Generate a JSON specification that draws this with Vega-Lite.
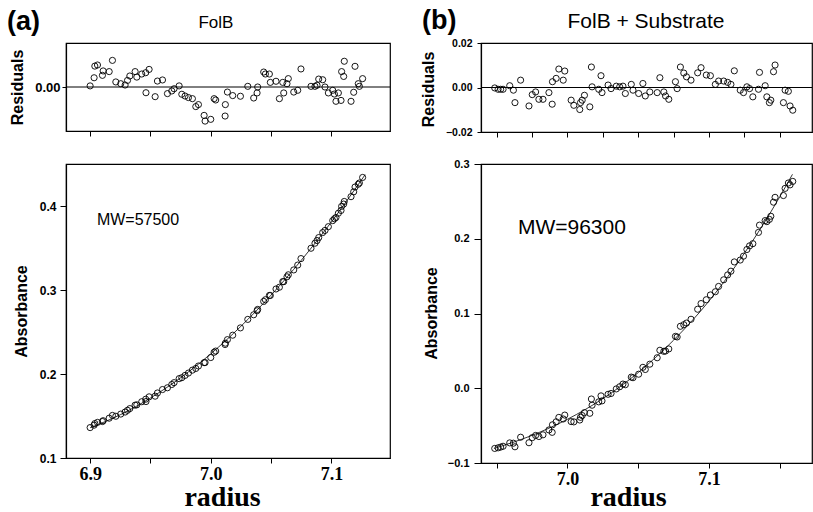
{
  "$schema": "https://vega.github.io/schema/vega-lite/v6.json",
  "autosize": {"type": "none"},
  "padding": {"left": 66, "top": 43, "right": 747, "bottom": 469},
  "background": "white",
  "bounds": "flush",
  "columns": 2,
  "spacing": {"row": 32, "column": 91},
  "config": {
    "view": {"stroke": "black", "strokeWidth": 1.2},
    "axis": {"domainColor": "black", "domainWidth": 1.2, "tickColor": "black", "tickWidth": 1, "labelColor": "black", "titleColor": "black", "grid": false, "labelFont": "Liberation Sans", "titleFont": "Liberation Sans", "labelFontWeight": "bold", "titleFontWeight": "bold", "labelOverlap": false, "labelFlush": false}
  },
  "datasets": {
    "a": [
      {"r": 6.9000, "res": 0.0005, "abs": 0.1362},
      {"r": 6.9033, "res": 0.0042, "abs": 0.1391},
      {"r": 6.9039, "res": 0.0095, "abs": 0.1410},
      {"r": 6.9061, "res": 0.0100, "abs": 0.1424},
      {"r": 6.9102, "res": 0.0053, "abs": 0.1434},
      {"r": 6.9108, "res": 0.0073, "abs": 0.1444},
      {"r": 6.9158, "res": 0.0070, "abs": 0.1474},
      {"r": 6.9185, "res": 0.0121, "abs": 0.1507},
      {"r": 6.9213, "res": 0.0023, "abs": 0.1497},
      {"r": 6.9254, "res": 0.0015, "abs": 0.1523},
      {"r": 6.9290, "res": 0.0009, "abs": 0.1547},
      {"r": 6.9310, "res": 0.0030, "abs": 0.1568},
      {"r": 6.9329, "res": 0.0050, "abs": 0.1588},
      {"r": 6.9373, "res": 0.0070, "abs": 0.1629},
      {"r": 6.9387, "res": 0.0045, "abs": 0.1633},
      {"r": 6.9428, "res": 0.0059, "abs": 0.1670},
      {"r": 6.9461, "res": 0.0065, "abs": 0.1700},
      {"r": 6.9489, "res": 0.0080, "abs": 0.1728},
      {"r": 6.9463, "res": -0.0026, "abs": 0.1672},
      {"r": 6.9539, "res": -0.0044, "abs": 0.1736},
      {"r": 6.9558, "res": 0.0027, "abs": 0.1774},
      {"r": 6.9600, "res": 0.0032, "abs": 0.1815},
      {"r": 6.9641, "res": -0.0030, "abs": 0.1836},
      {"r": 6.9677, "res": -0.0018, "abs": 0.1875},
      {"r": 6.9696, "res": -0.0008, "abs": 0.1897},
      {"r": 6.9738, "res": 0.0005, "abs": 0.1945},
      {"r": 6.9760, "res": -0.0033, "abs": 0.1956},
      {"r": 6.9787, "res": -0.0041, "abs": 0.1983},
      {"r": 6.9815, "res": -0.0048, "abs": 0.2011},
      {"r": 6.9848, "res": -0.0053, "abs": 0.2046},
      {"r": 6.9876, "res": -0.0089, "abs": 0.2066},
      {"r": 6.9898, "res": -0.0080, "abs": 0.2095},
      {"r": 6.9945, "res": -0.0129, "abs": 0.2135},
      {"r": 6.9953, "res": -0.0155, "abs": 0.2136},
      {"r": 7.0000, "res": -0.0147, "abs": 0.2196},
      {"r": 7.0028, "res": -0.0053, "abs": 0.2259},
      {"r": 7.0041, "res": -0.0059, "abs": 0.2273},
      {"r": 7.0119, "res": -0.0132, "abs": 0.2351},
      {"r": 7.0121, "res": -0.0080, "abs": 0.2367},
      {"r": 7.0138, "res": -0.0023, "abs": 0.2409},
      {"r": 7.0182, "res": -0.0039, "abs": 0.2462},
      {"r": 7.0246, "res": -0.0042, "abs": 0.2549},
      {"r": 7.0307, "res": 0.0003, "abs": 0.2650},
      {"r": 7.0356, "res": -0.0050, "abs": 0.2705},
      {"r": 7.0384, "res": -0.0027, "abs": 0.2753},
      {"r": 7.0389, "res": 0.0000, "abs": 0.2769},
      {"r": 7.0439, "res": 0.0068, "abs": 0.2864},
      {"r": 7.0453, "res": 0.0059, "abs": 0.2884},
      {"r": 7.0486, "res": 0.0059, "abs": 0.2935},
      {"r": 7.0494, "res": 0.0021, "abs": 0.2935},
      {"r": 7.0541, "res": 0.0026, "abs": 0.3012},
      {"r": 7.0569, "res": -0.0053, "abs": 0.3033},
      {"r": 7.0597, "res": 0.0021, "abs": 0.3100},
      {"r": 7.0605, "res": -0.0027, "abs": 0.3099},
      {"r": 7.0632, "res": 0.0015, "abs": 0.3157},
      {"r": 7.0643, "res": 0.0038, "abs": 0.3181},
      {"r": 7.0688, "res": -0.0023, "abs": 0.3239},
      {"r": 7.0721, "res": -0.0015, "abs": 0.3297},
      {"r": 7.0748, "res": 0.0082, "abs": 0.3374},
      {"r": 7.0831, "res": 0.0003, "abs": 0.3497},
      {"r": 7.0864, "res": 0.0003, "abs": 0.3557},
      {"r": 7.0881, "res": 0.0008, "abs": 0.3589},
      {"r": 7.0895, "res": 0.0036, "abs": 0.3624},
      {"r": 7.0928, "res": 0.0033, "abs": 0.3684},
      {"r": 7.0947, "res": 0.0000, "abs": 0.3709},
      {"r": 7.0975, "res": -0.0027, "abs": 0.3754},
      {"r": 7.1011, "res": -0.0015, "abs": 0.3826},
      {"r": 7.1025, "res": -0.0032, "abs": 0.3848},
      {"r": 7.1038, "res": -0.0065, "abs": 0.3863},
      {"r": 7.1058, "res": -0.0027, "abs": 0.3914},
      {"r": 7.1080, "res": -0.0061, "abs": 0.3947},
      {"r": 7.1085, "res": 0.0070, "abs": 0.3996},
      {"r": 7.1102, "res": 0.0048, "abs": 0.4023},
      {"r": 7.1107, "res": 0.0117, "abs": 0.4054},
      {"r": 7.1163, "res": -0.0065, "abs": 0.4111},
      {"r": 7.1185, "res": -0.0024, "abs": 0.4169},
      {"r": 7.1196, "res": 0.0094, "abs": 0.4226},
      {"r": 7.1223, "res": 0.0015, "abs": 0.4259},
      {"r": 7.1232, "res": 0.0003, "abs": 0.4274},
      {"r": 7.1259, "res": 0.0038, "abs": 0.4340}
    ],
    "b": [
      {"r": 6.9486, "res": -0.0002, "abs": -0.0805},
      {"r": 6.9510, "res": -0.0008, "abs": -0.0797},
      {"r": 6.9528, "res": -0.0008, "abs": -0.0787},
      {"r": 6.9545, "res": -0.0008, "abs": -0.0776},
      {"r": 6.9592, "res": 0.0008, "abs": -0.0731},
      {"r": 6.9618, "res": -0.0012, "abs": -0.0735},
      {"r": 6.9629, "res": -0.0068, "abs": -0.0783},
      {"r": 6.9669, "res": 0.0033, "abs": -0.0655},
      {"r": 6.9728, "res": -0.0083, "abs": -0.0729},
      {"r": 6.9751, "res": -0.0032, "abs": -0.0661},
      {"r": 6.9775, "res": -0.0020, "abs": -0.0631},
      {"r": 6.9798, "res": -0.0053, "abs": -0.0646},
      {"r": 6.9827, "res": -0.0053, "abs": -0.0623},
      {"r": 6.9869, "res": -0.0023, "abs": -0.0558},
      {"r": 6.9892, "res": -0.0075, "abs": -0.0590},
      {"r": 6.9894, "res": 0.0026, "abs": -0.0489},
      {"r": 6.9920, "res": 0.0041, "abs": -0.0449},
      {"r": 6.9939, "res": 0.0083, "abs": -0.0390},
      {"r": 6.9970, "res": 0.0033, "abs": -0.0411},
      {"r": 6.9981, "res": 0.0074, "abs": -0.0359},
      {"r": 7.0026, "res": -0.0057, "abs": -0.0446},
      {"r": 7.0045, "res": -0.0080, "abs": -0.0450},
      {"r": 7.0087, "res": -0.0099, "abs": -0.0425},
      {"r": 7.0092, "res": -0.0068, "abs": -0.0389},
      {"r": 7.0104, "res": -0.0057, "abs": -0.0365},
      {"r": 7.0120, "res": -0.0035, "abs": -0.0326},
      {"r": 7.0158, "res": -0.0087, "abs": -0.0335},
      {"r": 7.0169, "res": 0.0092, "abs": -0.0144},
      {"r": 7.0174, "res": 0.0003, "abs": -0.0227},
      {"r": 7.0221, "res": -0.0008, "abs": -0.0182},
      {"r": 7.0237, "res": 0.0053, "abs": -0.0102},
      {"r": 7.0244, "res": -0.0023, "abs": -0.0169},
      {"r": 7.0287, "res": 0.0011, "abs": -0.0081},
      {"r": 7.0308, "res": -0.0005, "abs": -0.0070},
      {"r": 7.0345, "res": 0.0006, "abs": -0.0009},
      {"r": 7.0369, "res": 0.0003, "abs": 0.0020},
      {"r": 7.0392, "res": 0.0006, "abs": 0.0056},
      {"r": 7.0409, "res": -0.0027, "abs": 0.0047},
      {"r": 7.0451, "res": 0.0014, "abs": 0.0149},
      {"r": 7.0463, "res": -0.0012, "abs": 0.0141},
      {"r": 7.0503, "res": -0.0027, "abs": 0.0188},
      {"r": 7.0533, "res": 0.0018, "abs": 0.0280},
      {"r": 7.0550, "res": -0.0038, "abs": 0.0251},
      {"r": 7.0582, "res": -0.0020, "abs": 0.0322},
      {"r": 7.0634, "res": -0.0023, "abs": 0.0408},
      {"r": 7.0653, "res": 0.0044, "abs": 0.0508},
      {"r": 7.0681, "res": -0.0020, "abs": 0.0494},
      {"r": 7.0693, "res": -0.0038, "abs": 0.0498},
      {"r": 7.0716, "res": -0.0053, "abs": 0.0526},
      {"r": 7.0763, "res": 0.0026, "abs": 0.0694},
      {"r": 7.0775, "res": -0.0005, "abs": 0.0686},
      {"r": 7.0798, "res": 0.0092, "abs": 0.0829},
      {"r": 7.0822, "res": 0.0065, "abs": 0.0850},
      {"r": 7.0841, "res": 0.0048, "abs": 0.0872},
      {"r": 7.0873, "res": 0.0033, "abs": 0.0923},
      {"r": 7.0920, "res": 0.0066, "abs": 0.1057},
      {"r": 7.0944, "res": 0.0089, "abs": 0.1133},
      {"r": 7.0981, "res": 0.0056, "abs": 0.1184},
      {"r": 7.1010, "res": 0.0053, "abs": 0.1248},
      {"r": 7.1045, "res": 0.0014, "abs": 0.1291},
      {"r": 7.1068, "res": 0.0029, "abs": 0.1362},
      {"r": 7.1104, "res": 0.0029, "abs": 0.1451},
      {"r": 7.1132, "res": 0.0023, "abs": 0.1516},
      {"r": 7.1155, "res": 0.0014, "abs": 0.1566},
      {"r": 7.1179, "res": 0.0075, "abs": 0.1690},
      {"r": 7.1221, "res": -0.0012, "abs": 0.1715},
      {"r": 7.1244, "res": -0.0023, "abs": 0.1767},
      {"r": 7.1268, "res": 0.0003, "abs": 0.1856},
      {"r": 7.1287, "res": -0.0005, "abs": 0.1905},
      {"r": 7.1310, "res": -0.0042, "abs": 0.1934},
      {"r": 7.1350, "res": -0.0008, "abs": 0.2085},
      {"r": 7.1357, "res": 0.0068, "abs": 0.2182},
      {"r": 7.1397, "res": 0.0008, "abs": 0.2243},
      {"r": 7.1409, "res": -0.0042, "abs": 0.2229},
      {"r": 7.1427, "res": -0.0068, "abs": 0.2259},
      {"r": 7.1437, "res": -0.0057, "abs": 0.2301},
      {"r": 7.1456, "res": 0.0071, "abs": 0.2489},
      {"r": 7.1467, "res": 0.0101, "abs": 0.2554},
      {"r": 7.1526, "res": -0.0068, "abs": 0.2578},
      {"r": 7.1538, "res": -0.0012, "abs": 0.2674},
      {"r": 7.1561, "res": -0.0017, "abs": 0.2746},
      {"r": 7.1573, "res": -0.0083, "abs": 0.2721},
      {"r": 7.1592, "res": -0.0102, "abs": 0.2767}
    ],
    "fitA": [
      {"r": 6.900, "abs": 0.1360},
      {"r": 6.925, "abs": 0.1515},
      {"r": 6.950, "abs": 0.1714},
      {"r": 6.975, "abs": 0.1955},
      {"r": 7.000, "abs": 0.2240},
      {"r": 7.025, "abs": 0.2568},
      {"r": 7.050, "abs": 0.2939},
      {"r": 7.075, "abs": 0.3353},
      {"r": 7.100, "abs": 0.3810},
      {"r": 7.128, "abs": 0.4373}
    ],
    "fitB": [
      {"r": 6.948, "abs": -0.0806},
      {"r": 6.975, "abs": -0.0630},
      {"r": 7.000, "abs": -0.0415},
      {"r": 7.025, "abs": -0.0139},
      {"r": 7.050, "abs": 0.0210},
      {"r": 7.075, "abs": 0.0643},
      {"r": 7.100, "abs": 0.1166},
      {"r": 7.125, "abs": 0.1805},
      {"r": 7.150, "abs": 0.2560},
      {"r": 7.159, "abs": 0.2862}
    ]
  },
  "concat": [
    {
      "width": 324,
      "height": 88,
      "layer": [
        {
          "data": {"name": "a"},
          "mark": {"type": "point", "shape": "circle", "filled": false, "stroke": "black", "strokeWidth": 0.9, "size": 38, "opacity": 1},
          "encoding": {
            "x": {"field": "r", "type": "quantitative", "scale": {"domain": [6.88, 7.1486], "nice": false, "zero": false},
              "axis": {"values": [6.9, 6.925, 6.95, 6.975, 7.0, 7.025, 7.05, 7.075, 7.1, 7.125], "labels": false, "title": null, "tickSize": 5}},
            "y": {"field": "res", "type": "quantitative", "scale": {"domain": [-0.02, 0.02], "nice": false, "zero": false},
              "axis": {"values": [0], "format": ".2f", "title": "Residuals", "titleX": -49, "titleY": 44, "titleAngle": -90, "titleBaseline": "middle", "titleFontSize": 16, "labelFontSize": 13, "tickSize": 4, "labelPadding": 2}}
          }
        },
        {
          "data": {"values": [{}]},
          "mark": {"type": "rule", "color": "black", "strokeWidth": 1},
          "encoding": {"y": {"datum": 0}}
        },
        {
          "data": {"values": [{}]},
          "mark": {"type": "text", "align": "left", "baseline": "alphabetic", "font": "Liberation Sans", "fontSize": 27, "fontWeight": "bold", "color": "black", "clip": false},
          "encoding": {"x": {"datum": 6.8311}, "y": {"datum": 0.0261}, "text": {"value": "(a)"}}
        },
        {
          "data": {"values": [{}]},
          "mark": {"type": "text", "align": "center", "baseline": "alphabetic", "font": "Liberation Sans", "fontSize": 17, "color": "black", "clip": false},
          "encoding": {"x": {"datum": 7.0043}, "y": {"datum": 0.0268}, "text": {"value": "FolB"}}
        }
      ]
    },
    {
      "width": 331,
      "height": 89,
      "layer": [
        {
          "data": {"name": "b"},
          "mark": {"type": "point", "shape": "circle", "filled": false, "stroke": "black", "strokeWidth": 0.9, "size": 38, "opacity": 1},
          "encoding": {
            "x": {"field": "r", "type": "quantitative", "scale": {"domain": [6.9389, 7.1728], "nice": false, "zero": false},
              "axis": {"values": [6.95, 6.975, 7.0, 7.025, 7.05, 7.075, 7.1, 7.125, 7.15], "labels": false, "title": null, "tickSize": 5}},
            "y": {"field": "res", "type": "quantitative", "scale": {"domain": [-0.02, 0.02], "nice": false, "zero": false},
              "axis": {"values": [-0.02, -0.01, 0, 0.01, 0.02], "labelExpr": "(datum.value == 0 || abs(datum.value) > 0.015) ? format(datum.value, '.2f') : ''", "title": "Residuals", "titleX": -53, "titleY": 46, "titleAngle": -90, "titleBaseline": "middle", "titleFontSize": 16, "labelFontSize": 10.5, "tickSize": 4, "labelPadding": 5}}
          }
        },
        {
          "data": {"values": [{}]},
          "mark": {"type": "rule", "color": "black", "strokeWidth": 1},
          "encoding": {"y": {"datum": 0}}
        },
        {
          "data": {"values": [{}]},
          "mark": {"type": "text", "align": "left", "baseline": "alphabetic", "font": "Liberation Sans", "fontSize": 27, "fontWeight": "bold", "color": "black", "clip": false},
          "encoding": {"x": {"datum": 6.8972}, "y": {"datum": 0.0261}, "text": {"value": "(b)"}}
        },
        {
          "data": {"values": [{}]},
          "mark": {"type": "text", "align": "center", "baseline": "alphabetic", "font": "Liberation Sans", "fontSize": 21, "color": "black", "clip": false},
          "encoding": {"x": {"datum": 7.0555}, "y": {"datum": 0.0267}, "text": {"value": "FolB + Substrate"}}
        }
      ]
    },
    {
      "width": 324,
      "height": 294,
      "layer": [
        {
          "data": {"name": "fitA"},
          "mark": {"type": "line", "color": "black", "strokeWidth": 0.8, "interpolate": "monotone"},
          "encoding": {
            "x": {"field": "r", "type": "quantitative", "scale": {"domain": [6.88, 7.1486], "nice": false, "zero": false},
              "axis": {"values": [6.9, 6.95, 7.0, 7.05, 7.1], "labelExpr": "abs(datum.value*10 - round(datum.value*10)) < 0.001 ? format(datum.value, '.1f') : ''", "labelFont": "Liberation Serif", "labelFontSize": 18, "tickSize": 5, "labelPadding": 2, "title": "radius", "titleFont": "Liberation Serif", "titleFontSize": 28, "titleX": 156, "titleY": 47, "titleAlign": "center", "titleBaseline": "alphabetic"}},
            "y": {"field": "abs", "type": "quantitative", "scale": {"domain": [0.1, 0.45], "nice": false, "zero": false},
              "axis": {"values": [0.1, 0.2, 0.3, 0.4], "format": ".1f", "title": "Absorbance", "titleX": -45, "titleY": 147, "titleAngle": -90, "titleBaseline": "middle", "titleFontSize": 16, "labelFontSize": 12, "tickSize": 6, "labelPadding": 4}}
          }
        },
        {
          "data": {"name": "a"},
          "mark": {"type": "point", "shape": "circle", "filled": false, "stroke": "black", "strokeWidth": 0.9, "size": 38, "opacity": 1},
          "encoding": {
            "x": {"field": "r", "type": "quantitative"},
            "y": {"field": "abs", "type": "quantitative"}
          }
        },
        {
          "data": {"values": [{}]},
          "mark": {"type": "text", "align": "left", "baseline": "alphabetic", "font": "Liberation Sans", "fontSize": 16, "color": "black"},
          "encoding": {"x": {"datum": 6.9056}, "y": {"datum": 0.3776}, "text": {"value": "MW=57500"}}
        }
      ]
    },
    {
      "width": 331,
      "height": 299,
      "layer": [
        {
          "data": {"name": "fitB"},
          "mark": {"type": "line", "color": "black", "strokeWidth": 0.8, "interpolate": "monotone"},
          "encoding": {
            "x": {"field": "r", "type": "quantitative", "scale": {"domain": [6.9389, 7.1728], "nice": false, "zero": false},
              "axis": {"values": [6.95, 7.0, 7.05, 7.1, 7.15], "labelExpr": "abs(datum.value*10 - round(datum.value*10)) < 0.001 ? format(datum.value, '.1f') : ''", "labelFont": "Liberation Serif", "labelFontSize": 18, "tickSize": 5, "labelPadding": 2, "title": "radius", "titleFont": "Liberation Serif", "titleFontSize": 28, "titleX": 147, "titleY": 42, "titleAlign": "center", "titleBaseline": "alphabetic"}},
            "y": {"field": "abs", "type": "quantitative", "scale": {"domain": [-0.1, 0.3], "nice": false, "zero": false},
              "axis": {"values": [-0.1, -0.05, 0, 0.05, 0.1, 0.15, 0.2, 0.25, 0.3], "labelExpr": "abs(datum.value*10 - round(datum.value*10)) < 0.001 ? format(datum.value, '.1f') : ''", "title": "Absorbance", "titleX": -50, "titleY": 149, "titleAngle": -90, "titleBaseline": "middle", "titleFontSize": 16, "labelFontSize": 11, "tickSize": {"condition": {"test": "abs(datum.value*10 - round(datum.value*10)) > 0.001", "value": 4}, "value": 7}, "labelPadding": 5}}
          }
        },
        {
          "data": {"name": "b"},
          "mark": {"type": "point", "shape": "circle", "filled": false, "stroke": "black", "strokeWidth": 0.9, "size": 38, "opacity": 1},
          "encoding": {
            "x": {"field": "r", "type": "quantitative"},
            "y": {"field": "abs", "type": "quantitative"}
          }
        },
        {
          "data": {"values": [{}]},
          "mark": {"type": "text", "align": "left", "baseline": "alphabetic", "font": "Liberation Sans", "fontSize": 21, "color": "black"},
          "encoding": {"x": {"datum": 6.965}, "y": {"datum": 0.2066}, "text": {"value": "MW=96300"}}
        }
      ]
    }
  ]
}
